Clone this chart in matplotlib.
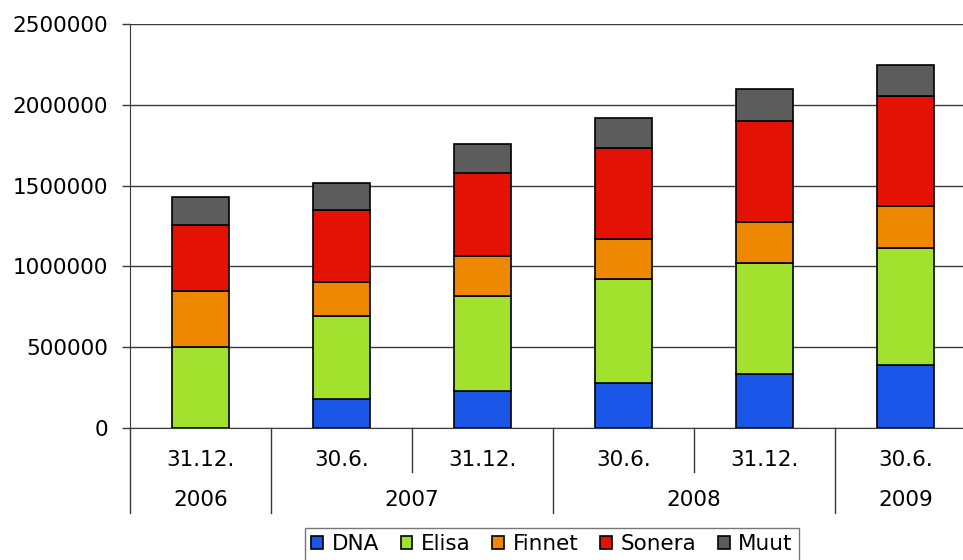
import matplotlib
matplotlib.use("Agg")
import matplotlib.pyplot as plt
import numpy as np

# ---- data ----
periods = ["31.12.", "30.6.", "31.12.", "30.6.", "31.12.", "30.6."]
years = ["2006", "2007", "2008", "2009"]
year_centers = [0, 1.5, 3.5, 5]

dna = [0, 178000, 227000, 278000, 334000, 392000]
elisa = [500000, 517000, 588000, 646000, 687000, 722000]
finnet = [348000, 211000, 247000, 244000, 252000, 262000]
sonera = [408000, 441000, 514000, 565000, 629000, 677000]
muut = [173000, 171000, 184000, 188000, 198000, 196000]

series = [("DNA", dna, "#1a56e8"),
          ("Elisa", elisa, "#a2e22e"),
          ("Finnet", finnet, "#ee8800"),
          ("Sonera", sonera, "#e31204"),
          ("Muut", muut, "#5c5c5c")]

plt.rcParams["font.family"] = ["DejaVu Sans"]
FS = 15.5

fig = plt.figure(figsize=(9.63, 5.6), dpi=100)
# axes extends a bit past the right edge, as in the reference
ax = fig.add_axes([130 / 963, 132 / 560, 846 / 963, 404 / 560])

x = np.arange(len(periods))
bottom = np.zeros(len(periods))
for name, vals, color in series:
    ax.bar(x, vals, width=0.4, bottom=bottom, color=color,
           edgecolor="black", linewidth=1.2, label=name, zorder=3)
    bottom += np.array(vals)

ax.set_xlim(-0.5, len(periods) - 0.5)
ax.set_ylim(0, 2500000)
ax.set_yticks(np.arange(0, 2500001, 500000))
ax.set_yticklabels([str(v) for v in range(0, 2500001, 500000)])
ax.yaxis.grid(True, color="#3a3a3a", linewidth=1.0, zorder=0)
ax.set_axisbelow(True)
ax.tick_params(axis="y", length=6, width=1, color="#3a3a3a", pad=10,
               labelsize=FS)
ax.set_xticks([])

for side in ["top", "right"]:
    ax.spines[side].set_visible(False)
ax.spines["left"].set_color("#3a3a3a")
ax.spines["bottom"].set_color("#3a3a3a")

# category axis with two rows
tr = ax.get_xaxis_transform()
for i, p in enumerate(periods):
    ax.text(i, -0.079, p, transform=tr, ha="center", va="center",
            fontsize=FS)
for c, yr in zip(year_centers, years):
    ax.text(c, -0.178, yr, transform=tr, ha="center", va="center",
            fontsize=FS)
for b in [-0.5, 0.5, 2.5, 4.5]:
    ax.plot([b, b], [0, -0.21], transform=tr, color="#3a3a3a", lw=1,
            clip_on=False)
for b in [1.5, 3.5]:
    ax.plot([b, b], [0, -0.109], transform=tr, color="#3a3a3a", lw=1,
            clip_on=False)

leg = ax.legend(loc="upper center", bbox_to_anchor=(422 / 846, -0.247),
                ncol=5, frameon=True, fancybox=False, fontsize=FS,
                handlelength=0.55, handleheight=0.55, handletextpad=0.4,
                columnspacing=1.0, borderpad=0.3, borderaxespad=0)
leg.get_frame().set_edgecolor("#555555")
leg.get_frame().set_linewidth(1.0)

fig.savefig("out.png", dpi=100)
